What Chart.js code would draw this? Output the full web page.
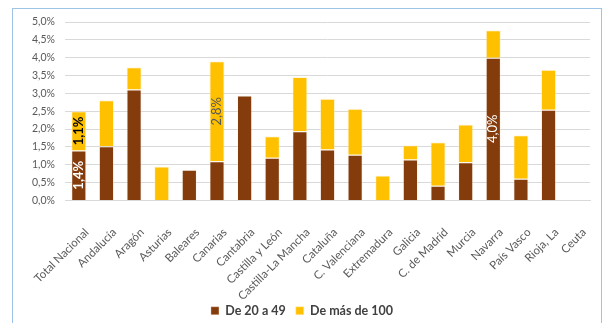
<!DOCTYPE html>
<html>
<head>
<meta charset="utf-8">
<script src="https://cdn.jsdelivr.net/npm/chart.js@4/dist/chart.umd.min.js"></script>
<style>
  html, body { margin: 0; padding: 0; background: #fff; overflow: hidden; }
  #wrap { position: relative; width: 608px; height: 323px; overflow: hidden; }
  #frame { position: absolute; left: 12px; top: 8px; width: 590px; height: 340px;
           border: 1.5px solid #9DC3E6; box-sizing: border-box; pointer-events: none; }
  canvas { position: absolute; left: 0; top: 0; }
</style>
</head>
<body>
<div id="wrap">
  <canvas id="c" width="608" height="340"></canvas>
  <div id="frame"></div>
</div>
<script>
// Regions along the horizontal axis
const categories = ['Total Nacional', 'Andalucía', 'Aragón', 'Asturias', 'Baleares', 'Canarias',
  'Cantabria', 'Castilla y León', 'Castilla-La Mancha', 'Cataluña', 'C. Valenciana',
  'Extremadura', 'Galicia', 'C. de Madrid', 'Murcia', 'Navarra', 'País Vasco', 'Rioja, La', 'Ceuta'];

// Share (%) for each size band
const de20a49 = [1.4, 1.52, 3.11, 0, 0.86, 1.1, 2.94, 1.2, 1.94, 1.43, 1.28, 0, 1.15, 0.41, 1.07, 4.0, 0.61, 2.54, 0];
const deMasDe100 = [1.1, 1.29, 0.62, 0.95, 0, 2.8, 0, 0.6, 1.52, 1.42, 1.29, 0.7, 0.4, 1.22, 1.06, 0.77, 1.22, 1.12, 0];

// Y axis ticks
const yTicks = [0, 0.5, 1, 1.5, 2, 2.5, 3, 3.5, 4, 4.5, 5];

// Segments carrying a value label: [dataset index, category]
const labelled = [[0, 'Total Nacional'], [1, 'Total Nacional'], [1, 'Canarias'], [0, 'Navarra']];
const labelStyle = {
  '0|Total Nacional': { color: '#FFFFFF', weight: 'bold' },
  '1|Total Nacional': { color: '#000000', weight: 'bold' },
  '1|Canarias': { color: '#595959', weight: 'normal' },
  '0|Navarra': { color: '#FFFFFF', weight: 'normal' }
};

const fmt = v => v.toFixed(1).replace('.', ',') + '%';
const FONT = 'Lato, "Open Sans", sans-serif';

const valueLabels = {
  id: 'valueLabels',
  afterDatasetsDraw(chart) {
    const ctx = chart.ctx;
    labelled.forEach(([ds, cat]) => {
      const i = categories.indexOf(cat);
      const el = chart.getDatasetMeta(ds).data[i];
      const v = chart.data.datasets[ds].data[i];
      const st = labelStyle[ds + '|' + cat];
      const cy = (el.y + el.base) / 2;
      ctx.save();
      ctx.translate(el.x, cy);
      ctx.rotate(-Math.PI / 2);
      ctx.font = st.weight + ' 13px ' + FONT;
      ctx.fillStyle = st.color;
      ctx.textAlign = 'center';
      ctx.textBaseline = 'middle';
      ctx.fillText(fmt(v), 0, 0);
      ctx.restore();
    });
  }
};

// Pull the legend up, closer to the rotated category labels
const legendNudge = {
  id: 'legendNudge',
  afterLayout(chart) {
    if (chart.legend) { chart.legend.top -= 10; chart.legend.bottom -= 10; }
  }
};

new Chart(document.getElementById('c'), {
  type: 'bar',
  data: {
    labels: categories,
    datasets: [
      { label: 'De 20 a 49', data: de20a49, backgroundColor: '#843C0C',
        borderColor: 'rgba(255,230,210,0.35)', borderWidth: 1,
        barPercentage: 0.55, categoryPercentage: 1 },
      { label: 'De más de 100', data: deMasDe100, backgroundColor: '#FFC000',
        borderColor: 'rgba(255,240,190,0.5)', borderWidth: 1,
        barPercentage: 0.55, categoryPercentage: 1 }
    ]
  },
  options: {
    responsive: false,
    animation: false,
    layout: { padding: { left: 14, right: 18, top: 22, bottom: 3 } },
    plugins: {
      legend: {
        position: 'bottom',
        labels: { boxWidth: 8, boxHeight: 8, padding: 10, color: '#404040',
                  font: { family: FONT, size: 12.5, weight: 'bold' } }
      },
      tooltip: { enabled: false }
    },
    scales: {
      x: {
        stacked: true,
        grid: { display: false },
        border: { color: '#D9D9D9' },
        ticks: { minRotation: 45, maxRotation: 45, autoSkip: false, color: '#595959',
                 padding: 17, labelOffset: 8, font: { family: FONT, size: 11.5 } },
        afterFit(s) { s.height = 104; }
      },
      y: {
        stacked: true,
        min: 0, max: 5,
        afterBuildTicks(s) { s.ticks = yTicks.map(v => ({ value: v })); },
        grid: { color: '#D9D9D9', drawTicks: false },
        border: { display: false },
        ticks: { color: '#595959', padding: 10, font: { family: FONT, size: 10.5 } ,
                 callback: v => fmt(v) },
        afterFit(s) { s.width = 51; }
      }
    }
  },
  plugins: [valueLabels, legendNudge]
});
</script>
</body>
</html>
